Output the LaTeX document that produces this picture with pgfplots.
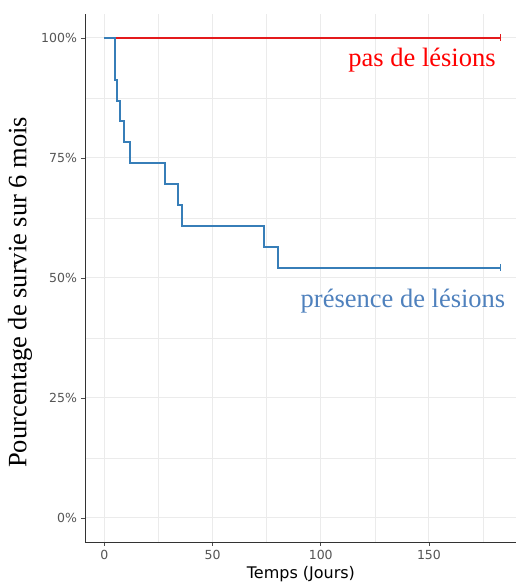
\documentclass[border=0pt]{standalone}
\usepackage{pgfplots}
\pgfplotsset{compat=1.18}
\usepackage{fontspec}
\setmainfont{Liberation Serif}
\newfontfamily\djsans{DejaVu Sans}
\definecolor{kmred}{RGB}{228,26,28}
\definecolor{kmblue}{RGB}{55,126,184}
\definecolor{txtblue}{RGB}{79,129,189}
\definecolor{gridc}{RGB}{235,235,235}
\definecolor{tickc}{RGB}{85,85,85}
\begin{document}
\begin{tikzpicture}[x=1pt,y=1pt]
\begin{axis}[
  at={(85pt,40pt)}, anchor=south west,
  scale only axis, width=431pt, height=528pt,
  xmin=-8.9, xmax=190.2, ymin=-5, ymax=105,
  axis lines*=left,
  axis line style={draw=black!80, line width=0.8pt},
  xtick={0,50,100,150}, minor xtick={25,75,125,175},
  ytick={0,25,50,75,100}, minor ytick={12.5,37.5,62.5,87.5},
  yticklabels={0\%,25\%,50\%,75\%,100\%},
  grid=both,
  major grid style={draw=gridc, line width=1pt},
  minor grid style={draw=gridc, line width=0.7pt},
  tick align=outside, tick pos=left,
  major tick length=3.5pt, minor tick length=0pt,
  tick style={draw=black!70, line width=0.7pt},
  ticklabel style={font=\djsans\fontsize{12.5}{14}\selectfont, text=tickc},
  xticklabel style={yshift=-1pt},
  yticklabel style={xshift=-1pt},
  /pgf/number format/assume math mode=true,
  xlabel={\djsans\fontsize{16}{19}\selectfont Temps (Jours)},
  xlabel style={at={(axis description cs:0.501,-0.0606)}, anchor=center},
  ylabel={\fontsize{26.5}{30}\selectfont Pourcentage de survie sur 6 mois},
  ylabel style={at={(axis description cs:-0.151,0.473)}, anchor=center},
  clip=false,
]
\addplot[kmred, line width=2pt, const plot] coordinates {(0,100) (183,100)};
\addplot[kmblue, line width=2pt, const plot] coordinates {
 (0,100) (5,91.30) (6.1,86.96) (7.2,82.61) (9,78.26) (12.1,73.91)
 (28.2,69.57) (34.2,65.22) (36,60.87) (74,56.52) (80.2,52.17) (183,52.17)};
\addplot[kmred, only marks, mark=|, mark size=3.5pt, mark options={line width=0.8pt}] coordinates {(183,100)};
\addplot[kmblue, only marks, mark=|, mark size=3.5pt, mark options={line width=0.8pt}] coordinates {(183,52.17)};
\node[text=red, font=\fontsize{26.5}{30}\selectfont] at (axis cs:146.8,95.4) {pas de lésions};
\node[text=txtblue, font=\fontsize{26.5}{30}\selectfont] at (axis cs:138,45.2) {présence de lésions};
\end{axis}
\pgfresetboundingbox
\path (0,0) rectangle (516pt,582pt);
\end{tikzpicture}
\end{document}
